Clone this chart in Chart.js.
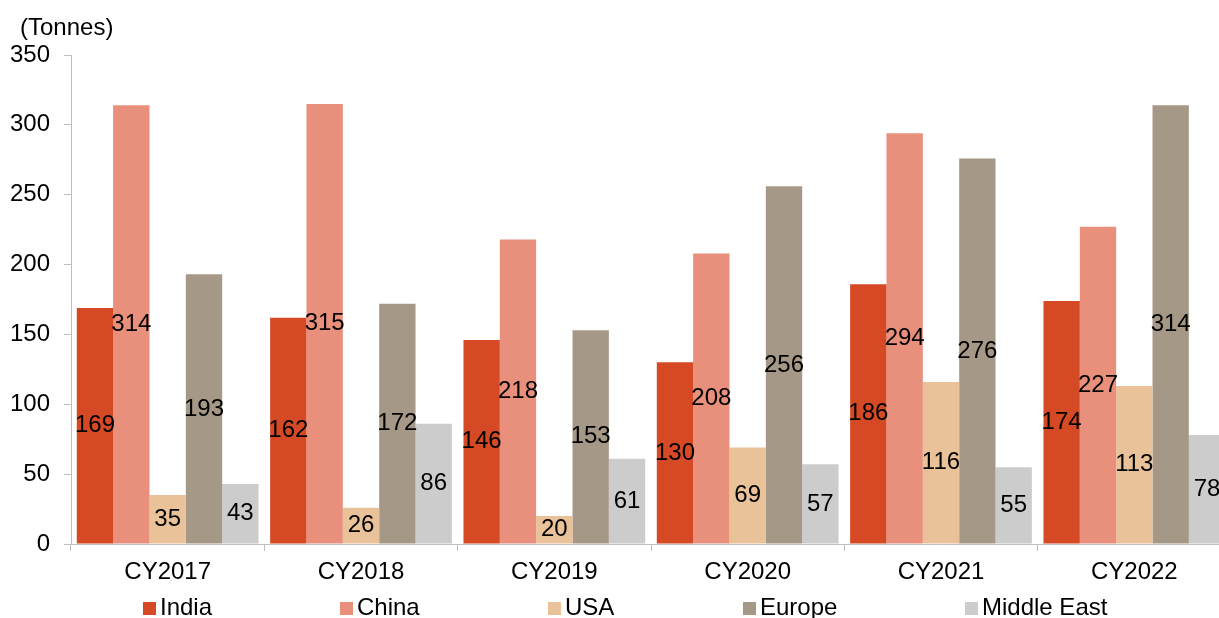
<!DOCTYPE html>
<html>
<head>
<meta charset="utf-8">
<script src="https://cdn.jsdelivr.net/npm/chart.js@4/dist/chart.umd.min.js"></script>
<style>
html,body{margin:0;padding:0;background:#fff;overflow:hidden;}
#wrap{width:1240px;height:618px;}
</style>
</head>
<body>
<div id="wrap"><canvas id="c" width="1240" height="618"></canvas></div>
<script>
const categories = ['CY2017','CY2018','CY2019','CY2020','CY2021','CY2022'];
const india = [169,162,146,130,186,174];
const china = [314,315,218,208,294,227];
const usa = [35,26,20,69,116,113];
const europe = [193,172,153,256,276,314];
const middleEast = [43,86,61,57,55,78];
const seriesNames = ['India','China','USA','Europe','Middle East'];
const seriesColors = ['#D54A24','#E8907C','#E9C29A','#A69886','#CCCCCC'];
const yTicks = [0,50,100,150,200,250,300,350];
const unitLabel = '(Tonnes)';

const FONT = 'Liberation Sans, Arial, sans-serif';
const FS = 24;
const legendX = [143,340,548,743,965];

const labelPlugin = {
  id:'barLabels',
  afterDatasetsDraw(chart){
    const ctx = chart.ctx;
    ctx.save();
    ctx.font = FS + 'px ' + FONT;
    ctx.fillStyle = '#000';
    ctx.textAlign = 'center';
    ctx.textBaseline = 'middle';
    chart.data.datasets.forEach((ds,i)=>{
      const meta = chart.getDatasetMeta(i);
      meta.data.forEach((bar,j)=>{
        const yMid = (bar.y + bar.base)/2;
        ctx.fillText(String(ds.data[j]), bar.x, yMid);
      });
    });
    ctx.restore();
  },
  afterDraw(chart){
    const ctx = chart.ctx;
    ctx.save();
    ctx.font = FS + 'px ' + FONT;
    ctx.fillStyle = '#000';
    ctx.textBaseline = 'middle';
    ctx.textAlign = 'left';
    ctx.fillText(unitLabel, 20, 28);
    chart.data.datasets.forEach((ds,i)=>{
      const x = legendX[i];
      ctx.fillStyle = ds.backgroundColor;
      ctx.fillRect(x, 602, 13, 13);
      ctx.fillStyle = '#000';
      ctx.fillText(ds.label, x + 17, 608);
    });
    ctx.restore();
  }
};

const seriesData = [india, china, usa, europe, middleEast];
new Chart(document.getElementById('c'), {
  type:'bar',
  data:{
    labels: categories,
    datasets: seriesData.map((d,i)=>({
      label: seriesNames[i],
      data: d,
      backgroundColor: seriesColors[i],
      borderWidth: 0,
      categoryPercentage: 0.94,
      barPercentage: 1.0
    }))
  },
  options:{
    responsive:false,
    animation:false,
    layout:{padding:{left:0,right:9,top:55,bottom:0}},
    plugins:{legend:{display:false}, tooltip:{enabled:false}, title:{display:false}},
    scales:{
      x:{
        grid:{display:true, drawOnChartArea:false, tickLength:7, color:'#BFBFBF', offset:true},
        border:{display:true, color:'#BFBFBF'},
        ticks:{font:{family:FONT,size:FS}, color:'#000', padding:7, maxRotation:0},
        afterFit(scale){ scale.height = 74; }
      },
      y:{
        min:0, max:350,
        afterBuildTicks(scale){ scale.ticks = yTicks.map(v=>({value:v})); },
        grid:{display:true, drawOnChartArea:false, tickLength:7, color:'#BFBFBF'},
        border:{display:true, color:'#BFBFBF'},
        ticks:{font:{family:FONT,size:FS}, color:'#000', padding:14},
        afterFit(scale){ scale.width = 71; }
      }
    }
  },
  plugins:[labelPlugin]
});
</script>
</body>
</html>
